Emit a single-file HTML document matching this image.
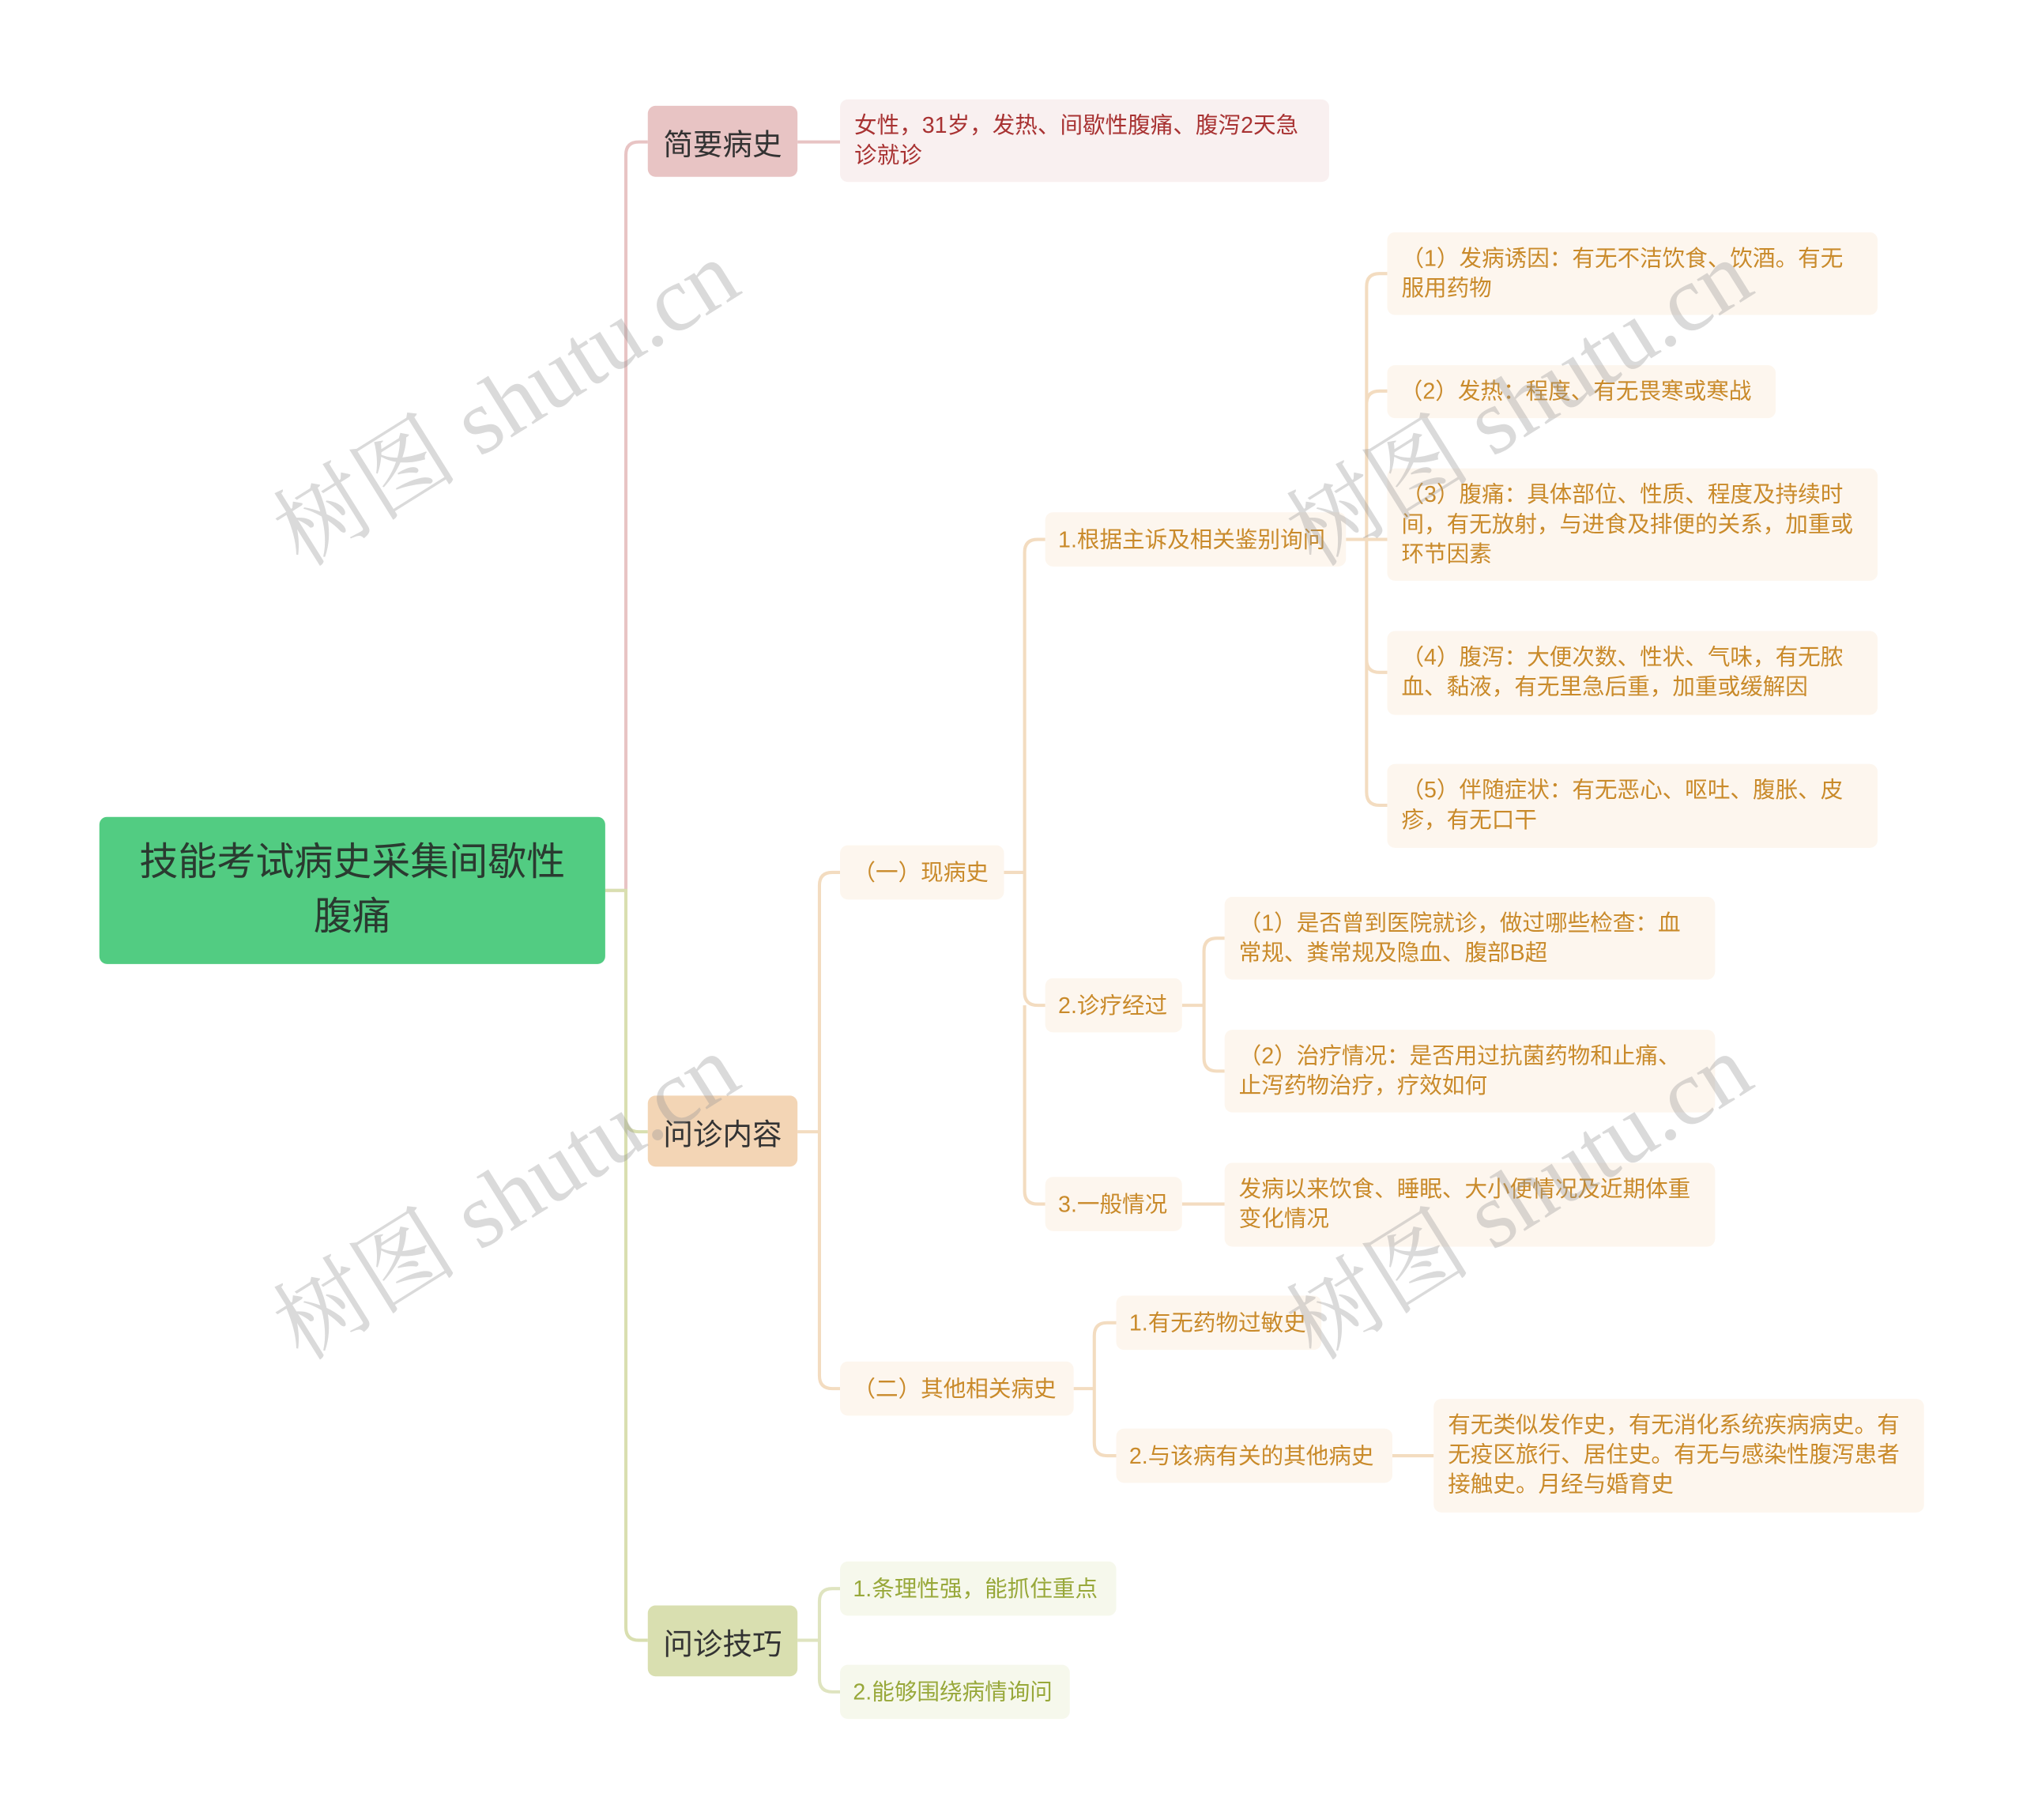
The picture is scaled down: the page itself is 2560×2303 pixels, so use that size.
<!DOCTYPE html>
<html><head><meta charset="utf-8">
<style>
html,body{margin:0;padding:0;background:#fff;}
body{width:2560px;height:2300px;overflow:hidden;position:relative;}
#w{position:absolute;left:0;top:0;width:1568px;height:1410px;transform:scale(1.633);transform-origin:0 0;font-family:"Liberation Sans","Noto Sans CJK SC",sans-serif;}
.n{position:absolute;box-sizing:border-box;border-radius:6px;}
.t{font-size:17.5px;line-height:23px;padding:9px 11px;}
.o{background:#fdf6ee;color:#c98a2a;}
.g{background:#f6f8ec;color:#98a83a;}
.m{font-size:23px;display:flex;align-items:center;justify-content:center;color:#333;}
.s{display:flex;align-items:center;white-space:nowrap;padding:0 10px;}
svg{position:absolute;left:0;top:0;}
.wm{position:absolute;font-size:72px;color:rgba(150,150,150,0.35);transform:rotate(-32deg);transform-origin:0 0;font-family:"Liberation Serif","Noto Serif CJK SC",serif;white-space:nowrap;}
</style></head><body><div id="w">
<svg width="1568" height="1410" fill="none" stroke-width="2.5">
<path d="M469 690 H485 V120 Q485 110 495 110 H502" stroke="#e8c4c4"/>
<path d="M469 690 H485 V1261 Q485 1271 495 1271 H502" stroke="#d9dfb0"/>
<path d="M485 867 Q485 877 495 877 H502" stroke="#d9dfb0"/>
<path d="M618 110 H651" stroke="#e8c4c4"/>
<path d="M618 877 H635 V686 Q635 676 645 676 H651 M635 877 V1066 Q635 1076 645 1076 H651" stroke="#f3dcc0"/>
<path d="M778 676 H794 V428 Q794 418 804 418 H810 M794 676 V769 Q794 779 804 779 H810 M794 779 V923 Q794 933 804 933 H810" stroke="#f3dcc0"/>
<path d="M1043 418 H1059 V222 Q1059 212 1069 212 H1075 M1059 418 V313 Q1059 303 1069 303 H1075 M1059 418 H1075 M1059 418 V511 Q1059 521 1069 521 H1075 M1059 418 V614 Q1059 624 1069 624 H1075" stroke="#f3dcc0"/>
<path d="M916 779 H933 V737 Q933 727 943 727 H949 M933 779 V820 Q933 830 943 830 H949" stroke="#f3dcc0"/>
<path d="M916 933 H949" stroke="#f3dcc0"/>
<path d="M832 1076 H848 V1035 Q848 1025 858 1025 H865 M848 1076 V1118 Q848 1128 858 1128 H865" stroke="#f3dcc0"/>
<path d="M1079 1128 H1111" stroke="#f3dcc0"/>
<path d="M618 1271 H635 V1241 Q635 1231 645 1231 H651 M635 1271 V1301 Q635 1311 645 1311 H651" stroke="#dfe4c0"/>
</svg>
<div class="n m" style="left:77px;top:633px;width:392px;height:114px;background:#52cc82;font-size:30px;line-height:42px;text-align:center;color:#2a3a30;">技能考试病史采集间歇性<br>腹痛</div>
<div class="n m" style="left:502px;top:82px;width:116px;height:55px;background:#e8c4c4;">简要病史</div>
<div class="n m" style="left:502px;top:849px;width:116px;height:55px;background:#f3d5b5;">问诊内容</div>
<div class="n m" style="left:502px;top:1244px;width:116px;height:55px;background:#d9dfb0;">问诊技巧</div>
<div class="n t" style="left:651px;top:77px;width:379px;height:64px;background:#f9f0f0;color:#a83232;">女性，31岁，发热、间歇性腹痛、腹泻2天急诊就诊</div>
<div class="n t o s" style="left:651px;top:655px;width:127px;height:42px;">（一）现病史</div>
<div class="n t o s" style="left:651px;top:1055px;width:181px;height:42px;">（二）其他相关病史</div>
<div class="n t o s" style="left:810px;top:397px;width:233px;height:42px;">1.根据主诉及相关鉴别询问</div>
<div class="n t o" style="left:1075px;top:180px;width:380px;height:64px;">（1）发病诱因：有无不洁饮食、饮酒。有无服用药物</div>
<div class="n t o s" style="left:1075px;top:283px;width:301px;height:41px;">（2）发热：程度、有无畏寒或寒战</div>
<div class="n t o" style="left:1075px;top:363px;width:380px;height:87px;">（3）腹痛：具体部位、性质、程度及持续时间，有无放射，与进食及排便的关系，加重或环节因素</div>
<div class="n t o" style="left:1075px;top:489px;width:380px;height:65px;">（4）腹泻：大便次数、性状、气味，有无脓血、黏液，有无里急后重，加重或缓解因</div>
<div class="n t o" style="left:1075px;top:592px;width:380px;height:65px;">（5）伴随症状：有无恶心、呕吐、腹胀、皮疹，有无口干</div>
<div class="n t o s" style="left:810px;top:758px;width:106px;height:42px;">2.诊疗经过</div>
<div class="n t o" style="left:949px;top:695px;width:380px;height:64px;">（1）是否曾到医院就诊，做过哪些检查：血常规、粪常规及隐血、腹部B超</div>
<div class="n t o" style="left:949px;top:798px;width:380px;height:64px;">（2）治疗情况：是否用过抗菌药物和止痛、止泻药物治疗，疗效如何</div>
<div class="n t o s" style="left:810px;top:912px;width:106px;height:42px;">3.一般情况</div>
<div class="n t o" style="left:949px;top:901px;width:380px;height:65px;">发病以来饮食、睡眠、大小便情况及近期体重变化情况</div>
<div class="n t o s" style="left:865px;top:1004px;width:159px;height:42px;">1.有无药物过敏史</div>
<div class="n t o s" style="left:865px;top:1107px;width:214px;height:42px;">2.与该病有关的其他病史</div>
<div class="n t o" style="left:1111px;top:1084px;width:380px;height:88px;">有无类似发作史，有无消化系统疾病病史。有无疫区旅行、居住史。有无与感染性腹泻患者接触史。月经与婚育史</div>
<div class="n t g s" style="left:651px;top:1210px;width:214px;height:42px;">1.条理性强，能抓住重点</div>
<div class="n t g s" style="left:651px;top:1290px;width:178px;height:42px;">2.能够围绕病情询问</div>
<div class="wm" style="left:190px;top:370px;">树图 shutu.cn</div>
<div class="wm" style="left:975px;top:370px;">树图 shutu.cn</div>
<div class="wm" style="left:190px;top:985px;">树图 shutu.cn</div>
<div class="wm" style="left:975px;top:985px;">树图 shutu.cn</div>
</div></body></html>
